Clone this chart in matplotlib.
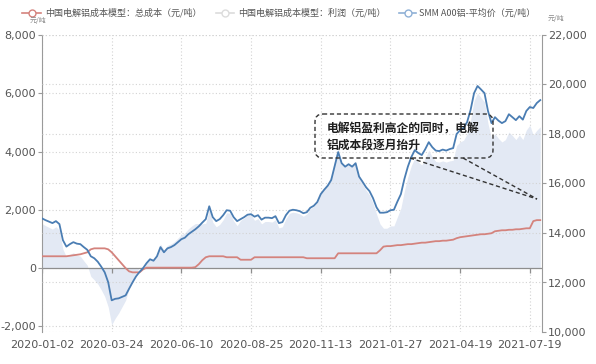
import numpy as np
import matplotlib
matplotlib.use("Agg")
import matplotlib.pyplot as plt
from matplotlib.patches import FancyBboxPatch

plt.rcParams['font.family'] = ['DejaVu Sans', 'Noto Sans CJK SC']
CJK = ['Noto Sans CJK SC', 'DejaVu Sans']

# ---------------- data ----------------
date_labels = ['2020-01-02', '2020-03-24', '2020-06-10', '2020-08-25',
               '2020-11-13', '2021-01-27', '2021-04-19', '2021-07-19']

# SMM A00 aluminium average price (yuan/t), right axis
price = [14590, 14520, 14460, 14400, 14480, 14360, 13710, 13450, 13550, 13630,
         13570, 13550, 13430, 13320, 13060, 12980, 12840, 12640, 12410, 12010,
         11280, 11340, 11360, 11420, 11480, 11750, 12010, 12250, 12430, 12580,
         12780, 12940, 12880, 13060, 13430, 13220, 13380, 13430, 13510, 13630,
         13750, 13810, 13950, 14050, 14150, 14270, 14420, 14560, 15080, 14640,
         14480, 14560, 14720, 14920, 14900, 14640, 14480, 14560, 14640, 14740,
         14760, 14660, 14720, 14540, 14620, 14620, 14600, 14680, 14400, 14440,
         14720, 14900, 14940, 14920, 14880, 14800, 14840, 15020, 15100, 15250,
         15570, 15750, 15910, 16140, 16700, 17270, 16820, 16680, 16780, 16680,
         16820, 16280, 16070, 15850, 15690, 15410, 15040, 14820, 14820, 14840,
         14920, 14940, 15270, 15570, 16180, 16680, 17070, 17350, 17230, 17150,
         17390, 17670, 17470, 17330, 17310, 17370, 17330, 17390, 17430, 18000,
         18160, 18240, 18480, 18970, 19650, 19940, 19800, 19650, 18930, 18440,
         18680, 18540, 18440, 18520, 18800, 18680, 18560, 18720, 18580, 18930,
         19090, 19050, 19250, 19370]

# total cost (yuan/t), right axis
cost = [13060, 13060, 13060, 13060, 13060, 13060, 13060, 13060, 13080, 13100,
        13120, 13140, 13180, 13220, 13340, 13380, 13380, 13380, 13380, 13340,
        13220, 13060, 12900, 12740, 12580, 12450, 12410, 12410, 12410, 12530,
        12600, 12600, 12600, 12600, 12600, 12600, 12600, 12600, 12600, 12600,
        12600, 12600, 12600, 12600, 12620, 12740, 12900, 13020, 13060, 13060,
        13060, 13060, 13060, 13020, 13020, 13020, 13020, 12920, 12920, 12920,
        12920, 13020, 13020, 13020, 13020, 13020, 13020, 13020, 13020, 13020,
        13020, 13020, 13020, 13020, 13020, 13020, 12980, 12980, 12980, 12980,
        12980, 12980, 12980, 12980, 12980, 13180, 13180, 13180, 13180, 13180,
        13180, 13180, 13180, 13180, 13180, 13180, 13180, 13300, 13450, 13470,
        13470, 13490, 13510, 13510, 13530, 13550, 13550, 13570, 13590, 13610,
        13610, 13630, 13650, 13670, 13670, 13690, 13690, 13710, 13730, 13790,
        13830, 13850, 13870, 13890, 13910, 13930, 13950, 13950, 13970, 13990,
        14070, 14090, 14110, 14110, 14130, 14130, 14150, 14150, 14170, 14190,
        14190, 14480, 14520, 14520]

# profit (yuan/t), left axis
profit = [1530, 1460, 1400, 1340, 1420, 1300, 650, 390, 470, 530,
          450, 410, 250, 100, -280, -400, -540, -740, -970, -1330,
          -1940, -1720, -1540, -1320, -1100, -700, -400, -160, 20, 50,
          180, 340, 280, 460, 830, 620, 780, 830, 910, 1030,
          1150, 1210, 1350, 1450, 1530, 1530, 1520, 1540, 2020, 1580,
          1420, 1500, 1660, 1900, 1880, 1620, 1460, 1640, 1720, 1820,
          1840, 1640, 1700, 1520, 1600, 1600, 1580, 1660, 1380, 1420,
          1700, 1880, 1920, 1900, 1860, 1780, 1860, 2040, 2120, 2270,
          2590, 2770, 2930, 3160, 3720, 4090, 3640, 3500, 3600, 3500,
          3640, 3100, 2890, 2670, 2510, 2230, 1860, 1520, 1370, 1370,
          1450, 1450, 1760, 2060, 2650, 3130, 3520, 3780, 3640, 3540,
          3780, 4040, 3820, 3660, 3640, 3680, 3640, 3680, 3700, 4210,
          4330, 4390, 4610, 5080, 5740, 6010, 5850, 5700, 4960, 4450,
          4610, 4450, 4330, 4410, 4670, 4550, 4410, 4570, 4410, 4740,
          4900, 4570, 4730, 4850]

left_ticks = [-2000, 0, 2000, 4000, 6000, 8000]
right_ticks = [10000, 12000, 14000, 16000, 18000, 20000, 22000]

# ---------------- styling ----------------
RED = '#d4837d'
BLUE = '#4a7db3'
FILL = '#e3e9f4'
GRID = '#d3d3d3'
AXC = '#9a9a9a'
TXT = '#555555'

W, H = 596, 364
fig = plt.figure(figsize=(W / 100, H / 100), dpi=100)
ax = fig.add_axes([42 / W, 1 - 332 / H, 500 / W, 297 / H])
ax2 = ax.twinx()

x = np.arange(len(price))
step = 20
tick_pos = np.arange(len(date_labels)) * step

ax.set_xlim(0, 143.5)
ax.set_ylim(-2190, 8000)
ax2.set_ylim(10000, 22000)

# profit area
ax.fill_between(x, profit, 0, color=FILL, lw=0, zorder=1)
ax.axhline(0, color='#8e8e8e', lw=0.9, zorder=2)
ax.plot(tick_pos, np.zeros(len(tick_pos)), ls='none', marker=3, ms=3.5,
        mew=0.9, color='#8e8e8e', zorder=2)

# lines
ax2.plot(x, cost, color=RED, lw=1.3, zorder=3)
ax2.plot(x, price, color=BLUE, lw=1.3, zorder=4)

# ticks
ax.set_yticks(left_ticks)
ax.set_yticklabels([f'{v:,}' for v in left_ticks])
ax2.set_yticks(right_ticks)
ax2.set_yticklabels([f'{v:,}' for v in right_ticks])
ax.set_xticks(tick_pos)
ax.set_xticklabels(date_labels)

ax.tick_params(axis='y', direction='out', length=3, width=0.8, color=AXC,
               labelcolor=TXT, labelsize=8, pad=1.5)
ax2.tick_params(axis='y', direction='out', length=3, width=0.8, color=AXC,
                labelcolor=TXT, labelsize=8, pad=1.5)
ax.tick_params(axis='x', length=0, labelcolor=TXT, labelsize=8, pad=6)

for sp in ['top', 'bottom', 'right']:
    ax.spines[sp].set_visible(False)
for sp in ['top', 'bottom', 'left']:
    ax2.spines[sp].set_visible(False)
ax.spines['left'].set_color(AXC)
ax2.spines['right'].set_color(AXC)

ax.set_axisbelow(True)
ax.grid(axis='both', ls=(0, (1, 2)), color=GRID, lw=0.8)
ax2.grid(axis='y', ls=(0, (1, 2)), color=GRID, lw=0.8)
ax2.set_axisbelow(True)

# ---------------- overlay for legend / annotations ----------------
ov = fig.add_axes([0, 0, 1, 1], zorder=5)
ov.set_xlim(0, W)
ov.set_ylim(H, 0)
ov.axis('off')
ov.patch.set_alpha(0)

ly = 13
ov.plot([22, 41], [ly, ly], color=RED, lw=1.2)
ov.plot([31.5], [ly], marker='o', ms=5, mfc='white', mec=RED, mew=1.0)
ov.text(45, ly, '中国电解铝成本模型：总成本（元/吨）', fontsize=6.5, color=TXT,
        va='center', family=CJK)
ov.plot([216, 234], [ly, ly], color='#dcdcdc', lw=1.2)
ov.plot([225], [ly], marker='o', ms=5, mfc='white', mec='#dcdcdc', mew=1.0)
ov.text(238, ly, '中国电解铝成本模型：利润（元/吨）', fontsize=6.5, color=TXT,
        va='center', family=CJK)
ov.plot([399, 416], [ly, ly], color='#8fb0d6', lw=1.2)
ov.plot([407.5], [ly], marker='o', ms=5, mfc='white', mec='#8fb0d6', mew=1.0)
ov.text(419, ly, 'SMM A00铝-平均价（元/吨）', fontsize=6.5, color=TXT,
        va='center', family=CJK)

ov.text(38, 21, '元/吨', fontsize=5, color='#888', ha='center', va='center',
        family=CJK)
ov.text(548, 19, '元/吨', fontsize=5, color='#888', ha='left', va='center',
        family=CJK)

# callout
box = FancyBboxPatch((315, 114), 178, 44,
                     boxstyle='round,pad=0,rounding_size=8',
                     fill=False, ls=(0, (3, 2)), ec='#333333', lw=1.0)
ov.add_patch(box)
ov.text(327, 129, '电解铝盈利高企的同时，电解', fontsize=8.5, weight='bold',
        color='#1e1e1e', va='center', family=CJK)
ov.text(327, 145, '铝成本段逐月抬升', fontsize=8.5, weight='bold',
        color='#1e1e1e', va='center', family=CJK)
ov.plot([410, 537], [158, 199], ls=(0, (3, 2)), color='#333333', lw=1.0)
ov.plot([463, 537], [158, 199], ls=(0, (3, 2)), color='#333333', lw=1.0)

fig.savefig('out.png', dpi=100)
